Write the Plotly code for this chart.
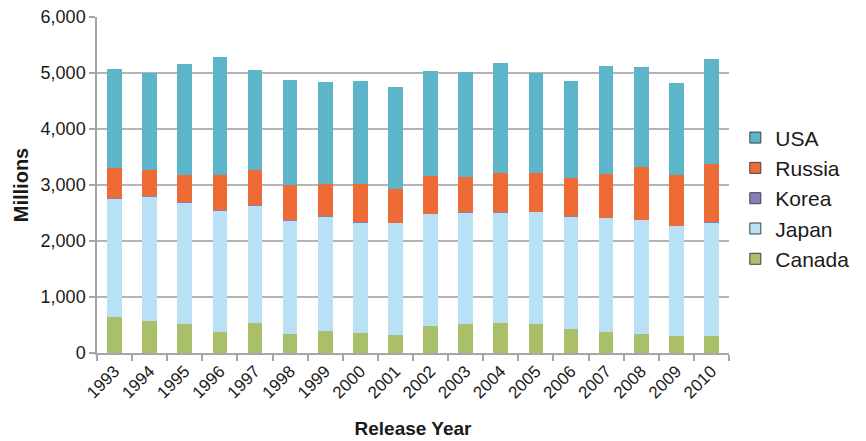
import plotly.graph_objects as go

years = [str(y) for y in range(1993, 2011)]

canada = [647, 576, 523, 380, 541, 345, 398, 362, 327, 487, 523, 541, 523, 434, 380, 345, 309, 309]
japan = [2109, 2210, 2162, 2162, 2084, 2013, 2031, 1966, 1996, 1996, 1984, 1966, 1996, 1995, 2032, 2031, 1960, 2014]
korea = [18, 18, 18, 6, 18, 18, 18, 18, 6, 6, 18, 18, 6, 18, 6, 6, 6, 18]
russia = [535, 469, 475, 636, 630, 624, 576, 677, 600, 678, 617, 689, 690, 677, 785, 939, 904, 1028]
usa = [1758, 1723, 1978, 2103, 1776, 1871, 1812, 1830, 1818, 1865, 1871, 1960, 1782, 1729, 1918, 1782, 1639, 1889]

series = [
    ("Canada", canada, "#A9BF69"),
    ("Japan", japan, "#B9E1F6"),
    ("Korea", korea, "#8A7DBF"),
    ("Russia", russia, "#EF6B35"),
    ("USA", usa, "#5DB5C9"),
]

FONT = "Liberation Sans, Arial, sans-serif"
TEXT = "#1a1a1a"
GRID = "#B4B4B4"

fig = go.Figure()

# stacked bars, bottom to top
for name, vals, color in series:
    fig.add_trace(go.Bar(
        x=years, y=vals, name=name,
        marker=dict(color=color, line=dict(width=0)),
        showlegend=False,
    ))

# legend entries: bordered squares, listed top to bottom
for name, vals, color in reversed(series):
    fig.add_trace(go.Scatter(
        x=[None], y=[None], mode="markers", name=name,
        marker=dict(symbol="square", size=11, color=color,
                    line=dict(color="#404040", width=1)),
    ))

fig.update_layout(
    width=866, height=441,
    barmode="stack",
    bargap=0.58,
    plot_bgcolor="white",
    paper_bgcolor="white",
    margin=dict(l=97, r=129, t=17, b=88),
    font=dict(family=FONT, color=TEXT),
    legend=dict(
        x=1.01, xanchor="left", y=0.46, yanchor="middle",
        traceorder="normal",
        font=dict(family=FONT, size=21, color=TEXT),
        itemwidth=30, tracegroupgap=0,
        bgcolor="rgba(0,0,0,0)",
    ),
)

fig.update_xaxes(
    type="category",
    automargin=False,
    tickangle=-45,
    tickfont=dict(family=FONT, size=17, color=TEXT),
    showline=True, linecolor="#A6A6A6", linewidth=1.5,
    ticks="outside", tickson="boundaries", ticklen=6, tickcolor="#A6A6A6", tickwidth=1.5,
    showgrid=False,
    title=dict(text="<b>Release Year</b>", font=dict(family=FONT, size=19, color=TEXT), standoff=20),
)

fig.update_yaxes(
    automargin=False,
    range=[0, 6000], dtick=1000, tickformat=",",
    tickfont=dict(family=FONT, size=18, color=TEXT),
    showline=True, linecolor="#A6A6A6", linewidth=1.5,
    ticks="outside", ticklen=6, tickcolor="#A6A6A6", tickwidth=1.5,
    showgrid=True, gridcolor=GRID, gridwidth=1.5,
    zeroline=False,
    title=dict(text="<b>Millions</b>", font=dict(family=FONT, size=20, color=TEXT), standoff=7),
)

fig.write_html("out.html")
